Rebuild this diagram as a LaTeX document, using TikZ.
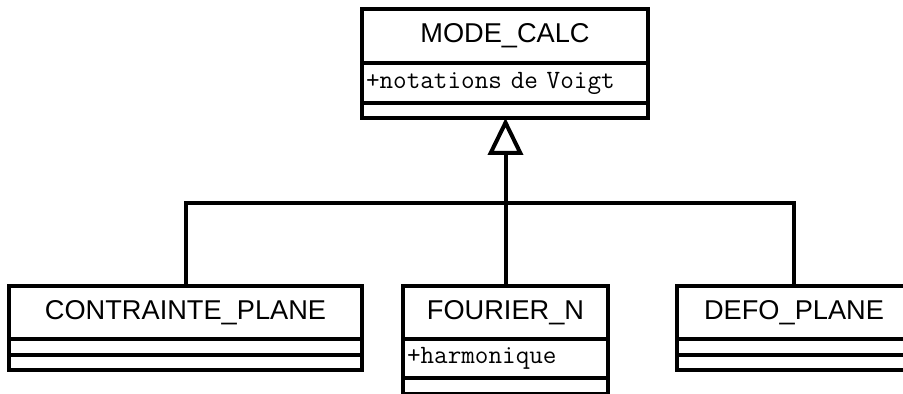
\documentclass[tikz,border=0pt]{standalone}
\usepackage{fontspec}
\setmainfont{Liberation Sans}
\usetikzlibrary{
  arrows.meta,
  positioning
}
\tikzset{
  cbox/.style={
    draw=black,
    fill=white,
    line width=2pt,
    outer sep=0pt,
    inner sep=0pt,
    minimum height=7.5pt
  },
  namebox/.style={cbox,minimum height=27pt,font=\fontsize{13.6}{16}\selectfont},
  attrbox/.style={cbox,align=left,inner xsep=2pt,font=\ttfamily\fontsize{13.2}{15}\selectfont},
  link/.style={line width=2pt},
  inherit/.style={-{Triangle[open,length=18.5pt,width=17.5pt]},line width=2pt}
}

\begin{document}
\begin{tikzpicture}
  \useasboundingbox (0,0) rectangle (451.5pt,197pt);
  \clip (0,0) rectangle (451.5pt,197pt);

  % parent class
  \node[namebox, minimum width=143pt, anchor=north] (mode) at (252.5pt,192.5pt) {MODE\_CALC};
  \node[attrbox, minimum width=143pt, text width=139pt, minimum height=20pt, below=0mm of mode] (mode attr) {+notations de Voigt};
  \node[cbox, minimum width=143pt, below=0mm of mode attr] (mode ops) {};

  % sub classes
  \node[namebox, minimum width=176.5pt, minimum height=26.5pt, anchor=north] (contr) at (92.75pt,54pt) {CONTRAINTE\_PLANE};
  \node[cbox, minimum width=176.5pt, minimum height=8pt, below=0mm of contr] (contr attr) {};
  \node[cbox, minimum width=176.5pt, below=0mm of contr attr] (contr ops) {};

  \node[namebox, minimum width=102.5pt, minimum height=26.5pt, anchor=north] (fourier) at (252.75pt,54pt) {FOURIER\_N};
  \node[attrbox, minimum width=102.5pt, text width=98.5pt, minimum height=19.5pt, below=0mm of fourier] (fourier attr) {+harmonique};
  \node[cbox, minimum width=102.5pt, minimum height=8pt, below=0mm of fourier attr] (fourier ops) {};

  \node[namebox, minimum width=117pt, minimum height=26.5pt, anchor=north] (defo) at (397pt,54pt) {DEFO\_PLANE};
  \node[cbox, minimum width=117pt, minimum height=8pt, below=0mm of defo] (defo attr) {};
  \node[cbox, minimum width=117pt, below=0mm of defo attr] (defo ops) {};

  \coordinate (join) at (252.75pt,95.5pt);
  \draw[inherit] (fourier.north) -- (fourier.north |- mode ops.south);
  \draw[link] (contr.north) |- (join) -| (defo.north);
\end{tikzpicture}
\end{document}
